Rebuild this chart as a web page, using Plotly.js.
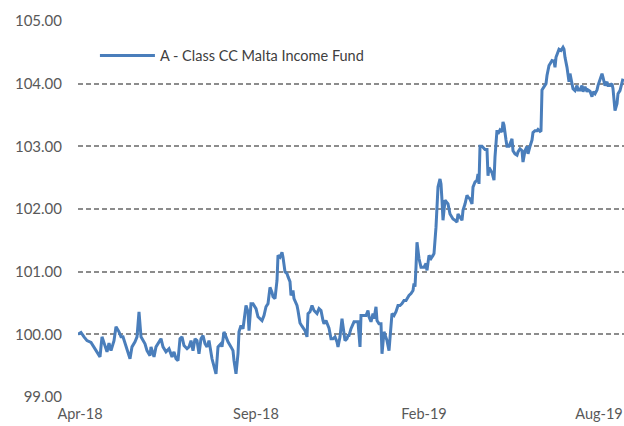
<!DOCTYPE html>
<html>
<head>
<meta charset="utf-8">
<script src="https://cdn.plot.ly/plotly-3.0.1.min.js"></script>
<style>
html,body{margin:0;padding:0;background:#fff;}
#chart{width:624px;height:426px;}
</style>
</head>
<body>
<div id="chart"></div>
<script>
// Position along the time axis (trading-session scale) for each observation
const session = [
  0,3,6,9,13,16,19,22,24,27,29,31,33,36,38,41,43,45,47,49,52,54,57,59,61,63,65,67,69,72,73,76,78,80,83,85,88,91,
  94,96,98,100,102,104,106,109,111,113,115,117,119,121,123,125,127,129,131,134,136,138,140,143,144,146,148,150,153,155,156,158,160,161,163,165,168,170,171,173,175,178,180,
  184,186,188,190,192,194,195,197,199,200,202,204,205,207,209,210,212,213,215,216,219,220,222,224,225,227,229,230,232,234,236,239,241,243,245,246,248,250,251,253,255,257,259,260,262,264,265,267,269,270,
  271,273,276,278,280,282,283,285,288,290,291,293,295,296,298,299,301,303,304,306,308,309,311,313,314,316,318,320,322,324,326,328,330,331,333,335,336,337,338,339,341,343,345,346,348,349,351,353,355,356,358,359,360,362,
  363,364,365,367,369,370,372,374,375,377,379,380,382,384,385,387,389,390,392,394,395,397,399,400,401,402,404,405,407,409,410,411,413,414,416,417,419,420,422,424,425,426,428,429,431,433,434,435,437,439,440,442,444,445,447,449,450,
  452,454,455,457,459,460,462,463,464,466,468,469,471,473,474,476,477,478,480,481,483,485,486,487,489,490,491,492,494,495,497,499,500,502,504,505,507,509,510,512,514,515,517,519,520,522,524,525,527,529,530,532,534,535,537,539,540,542,544,545
];

// Fund price (NAV)
const nav = [
  100.00,100.03,99.96,99.90,99.87,99.80,99.72,99.64,99.96,99.80,99.72,99.86,99.74,99.90,100.12,100.04,99.96,99.96,99.85,99.74,99.61,99.80,99.88,99.96,100.36,99.96,99.90,99.85,99.74,99.66,99.80,99.64,99.80,99.85,99.93,99.80,99.72,99.77,
  99.64,99.72,99.61,99.58,99.93,99.96,99.82,99.77,99.80,99.90,99.74,99.93,99.90,99.69,99.93,99.98,99.85,99.80,99.90,99.61,99.50,99.37,99.80,99.85,99.80,100.04,99.96,99.88,99.80,99.74,99.58,99.37,99.69,100.04,100.14,100.09,100.46,100.36,100.06,100.49,100.49,100.41,100.28,
  100.22,100.30,100.44,100.49,100.75,100.67,100.60,100.57,100.86,101.26,101.23,101.31,101.23,101.00,100.97,100.92,100.84,100.62,100.70,100.57,100.46,100.38,100.18,100.13,100.11,100.06,99.96,100.33,100.36,100.46,100.38,100.33,100.41,100.38,100.22,100.17,100.22,100.12,100.10,99.93,99.93,99.96,99.88,99.80,99.96,100.25,100.10,99.90,99.93,99.98,
  99.98,100.09,100.20,100.20,100.20,99.80,100.30,100.30,100.30,100.38,100.28,100.20,100.33,100.25,100.44,100.22,100.17,100.17,99.69,100.04,99.96,99.90,99.74,100.12,100.33,100.30,100.36,100.46,100.46,100.49,100.54,100.54,100.60,100.62,100.65,100.70,100.81,100.76,101.07,101.47,101.21,101.07,101.07,101.07,101.13,101.02,101.26,101.21,101.26,101.29,101.71,102.14,102.35,102.48,
  102.40,102.14,101.82,102.14,102.11,102.08,101.92,101.87,101.84,101.82,101.79,101.92,101.87,101.82,101.98,102.08,102.22,102.19,102.16,102.08,102.35,102.43,102.46,102.56,102.40,103.00,103.00,102.98,102.95,102.95,102.53,102.66,102.61,102.58,102.46,102.83,103.26,103.20,103.26,103.23,103.39,103.34,103.10,103.00,103.00,103.10,103.12,102.93,102.88,102.86,102.91,102.96,102.93,102.75,102.93,103.00,102.88,
  103.00,103.10,103.22,103.25,103.25,103.27,103.24,103.25,103.90,103.95,104.00,104.13,104.29,104.34,104.37,104.36,104.26,104.42,104.50,104.55,104.53,104.58,104.55,104.42,104.26,104.13,104.03,104.16,103.97,103.92,103.89,103.97,103.90,103.90,103.97,103.87,103.95,103.87,103.90,103.88,103.79,103.87,103.84,103.90,103.97,104.08,104.16,104.10,103.97,104.03,103.97,103.97,104.00,103.92,103.57,103.68,103.84,103.89,104.05,104.08
];

const seriesName = 'A - Class CC Malta Income Fund';
const tickLabels = ['Apr-18', 'Sep-18', 'Feb-19', 'Aug-19'];
const tickSessions = [2, 178, 346, 521];
const yTicks = [99, 100, 101, 102, 103, 104, 105];

const font = 'Lato, "Open Sans", "Liberation Sans", sans-serif';

Plotly.newPlot('chart', [{
  type: 'scatter',
  mode: 'lines',
  name: seriesName,
  x: session,
  y: nav,
  line: {color: '#4a7ebb', width: 3},
  showlegend: true
}], {
  width: 624,
  height: 426,
  margin: {l: 78, r: 0, t: 21, b: 29},
  paper_bgcolor: '#ffffff',
  plot_bgcolor: '#ffffff',
  font: {family: font, size: 15, color: '#595959'},
  showlegend: true,
  legend: {
    x: 0.031, y: 0.908, xanchor: 'left', yanchor: 'middle',
    itemwidth: 55,
    bgcolor: 'rgba(0,0,0,0)',
    font: {family: font, size: 14.5, color: '#404040'}
  },
  xaxis: {
    range: [0, 546],
    tickmode: 'array',
    tickvals: tickSessions,
    ticktext: tickLabels,
    showgrid: false,
    zeroline: false,
    showline: false,
    ticks: '',
    ticklabeloverflow: 'allow',
    ticklabelstandoff: 6,
    tickfont: {family: font, size: 14.5, color: '#595959'}
  },
  yaxis: {
    range: [99, 105],
    tickmode: 'array',
    tickvals: yTicks,
    tickformat: '.2f',
    showgrid: true,
    gridcolor: '#8c8c8c',
    gridwidth: 2,
    griddash: '5px,3px',
    zeroline: false,
    showline: false,
    ticks: '',
    ticklabelstandoff: 15,
    tickfont: {family: font, size: 15, color: '#595959'}
  }
}, {displayModeBar: false, staticPlot: true});
</script>
</body>
</html>
